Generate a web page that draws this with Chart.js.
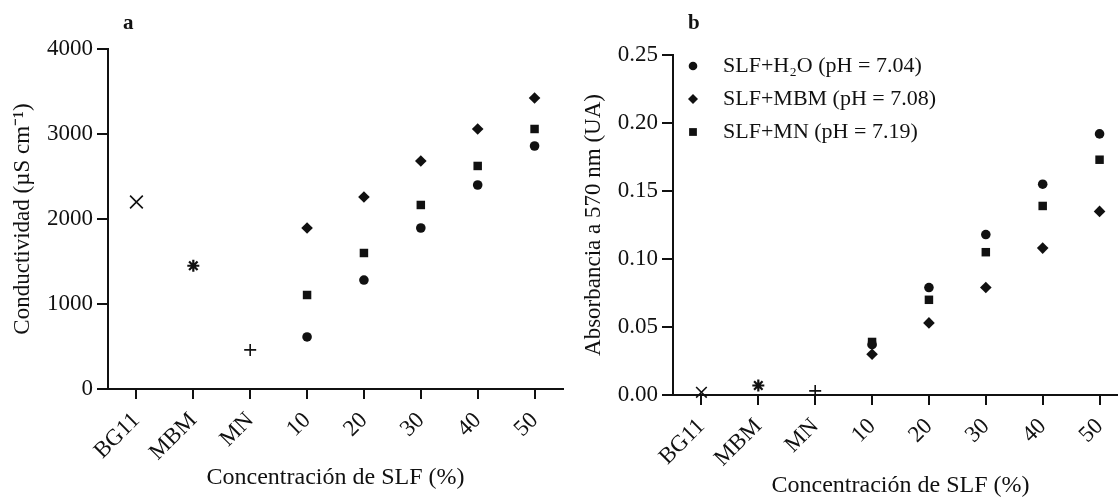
<!DOCTYPE html>
<html>
<head>
<meta charset="utf-8">
<script src="https://cdn.jsdelivr.net/npm/chart.js@4.4.0/dist/chart.umd.min.js"></script>
<style>
  html, body { margin: 0; padding: 0; background: #fff; overflow: hidden; }
  body { width: 1118px; height: 501px; position: relative; }
  canvas { position: absolute; top: 0; }
  #chartA { left: 0; }
  #chartB { left: 575px; }
  .tag { position: absolute; font: bold 21px 'Liberation Serif'; line-height: 1; color: #111; }
</style>
</head>
<body>
<canvas id="chartA" width="575" height="501"></canvas>
<canvas id="chartB" width="565" height="501"></canvas>
<div class="tag" style="left:123px; top:12px;">a</div>
<div class="tag" style="left:688px; top:12px;">b</div>
<script>
const categories = ['BG11', 'MBM', 'MN', '10', '20', '30', '40', '50'];
const controlCats = ['BG11', 'MBM', 'MN'];
const slfCats = ['10', '20', '30', '40', '50'];
const seriesLabels = ['SLF+H₂O (pH = 7.04)', 'SLF+MBM (pH = 7.08)', 'SLF+MN (pH = 7.19)'];

// a: conductividad (µS cm-1)
const condControl = [2200, 1450, 460];
const condH2O = [612, 1282, 1894, 2400, 2859];
const condMBM = [1894, 2259, 2682, 3059, 3424];
const condMN = [1106, 1600, 2165, 2624, 3059];
const condTicks = [0, 1000, 2000, 3000, 4000];

// b: absorbancia a 570 nm
const absControl = [0.002, 0.007, 0.003];
const absH2O = [0.037, 0.079, 0.118, 0.155, 0.192];
const absMBM = [0.030, 0.053, 0.079, 0.108, 0.135];
const absMN = [0.039, 0.070, 0.105, 0.139, 0.173];
const absTicks = [0, 0.05, 0.10, 0.15, 0.20, 0.25];

const ink = '#111';
const serif = 'Liberation Serif';

// legend drawn inside the plot area, top left
const insideLegend = {
  id: 'insideLegend',
  afterDatasetsDraw(chart, args, opts) {
    if (!opts.show) return;
    const {ctx, chartArea} = chart;
    ctx.save();
    ctx.fillStyle = ink;
    ctx.strokeStyle = ink;
    ctx.font = "22px 'Liberation Serif'";
    ctx.textBaseline = 'middle';
    chart.data.datasets.filter(d => d.inLegend).forEach((d, i) => {
      const y = chartArea.top + opts.top + i * opts.rowGap;
      Chart.helpers.drawPoint(ctx, {pointStyle: d.pointStyle, radius: d.legendRadius, borderWidth: 0},
        chartArea.left + opts.markerX, y);
      ctx.fillText(d.label, chartArea.left + opts.textX, y);
    });
    ctx.restore();
  }
};

function points(cats, vals) {
  return cats.map((c, i) => ({x: c, y: vals[i]}));
}

function datasets(control, h2o, mbm, mn, crossSize) {
  const base = {showLine: false, backgroundColor: ink, borderColor: ink, clip: false};
  return [
    {...base, label: 'control', data: points(controlCats, control),
      pointStyle: ['crossRot', 'star', 'cross'], pointRadius: [crossSize, 6, 6], pointBorderWidth: [1.6, 2.2, 1.6]},
    {...base, label: seriesLabels[0], data: points(slfCats, h2o), inLegend: true,
      pointStyle: 'circle', pointRadius: 4.8, pointBorderWidth: 0, legendRadius: 4.3},
    {...base, label: seriesLabels[1], data: points(slfCats, mbm), inLegend: true,
      pointStyle: 'rectRot', pointRadius: 5.8, pointBorderWidth: 0, legendRadius: 5},
    {...base, label: seriesLabels[2], data: points(slfCats, mn), inLegend: true,
      pointStyle: 'rect', pointRadius: 6, pointBorderWidth: 0, legendRadius: 5.5}
  ];
}

function panel(id, cfg) {
  return new Chart(document.getElementById(id), {
    type: 'line',
    data: {labels: categories, datasets: cfg.datasets},
    plugins: [insideLegend],
    options: {
      responsive: false,
      animation: false,
      layout: {padding: {top: cfg.top, right: 12, left: 0, bottom: 0}},
      plugins: {
        legend: {display: false},
        tooltip: {enabled: false},
        insideLegend: {show: cfg.legend, top: 11, rowGap: 33, markerX: 20, textX: 50}
      },
      scales: {
        x: {
          type: 'category',
          offset: true,
          grid: {drawOnChartArea: false, drawTicks: true, tickLength: 10, offset: false, color: ink, lineWidth: 2},
          border: {display: true, color: ink, width: 2},
          ticks: {color: ink, font: {family: serif, size: 23}, minRotation: 45, maxRotation: 45, autoSkip: false, padding: 8},
          title: {display: true, text: 'Concentración de SLF (%)', color: ink,
            font: {family: serif, size: 24, lineHeight: 1}, padding: {top: 0, bottom: cfg.xTitlePad}},
          afterFit: s => { s.height = cfg.xHeight; }
        },
        y: {
          min: cfg.yTicks[0],
          max: cfg.yTicks[cfg.yTicks.length - 1],
          grid: {drawOnChartArea: false, drawTicks: true, tickLength: 11, color: ink, lineWidth: 2},
          border: {display: true, color: ink, width: 2},
          ticks: {color: ink, font: {family: serif, size: 23}, padding: 4, callback: cfg.fmt},
          afterBuildTicks: s => { s.ticks = cfg.yTicks.map(v => ({value: v})); },
          title: {display: true, text: cfg.yTitle, color: ink,
            font: {family: serif, size: 23, lineHeight: 1}, padding: {top: cfg.yTitlePad, bottom: 0}},
          afterFit: s => { s.width = cfg.yWidth; }
        }
      }
    }
  });
}

panel('chartA', {
  datasets: datasets(condControl, condH2O, condMBM, condMN, 9),
  yTicks: condTicks,
  fmt: v => String(v),
  yTitle: 'Conductividad (µS cm⁻¹)',
  top: 49, xHeight: 112, yWidth: 108,
  xTitlePad: 11, yTitlePad: 11,
  legend: false
});

panel('chartB', {
  datasets: datasets(absControl, absH2O, absMBM, absMN, 7.5),
  yTicks: absTicks,
  fmt: v => Number(v).toFixed(2),
  yTitle: 'Absorbancia a 570 nm (UA)',
  top: 55, xHeight: 106, yWidth: 98,
  xTitlePad: 3, yTitlePad: 7.5,
  legend: true
});
</script>
</body>
</html>
